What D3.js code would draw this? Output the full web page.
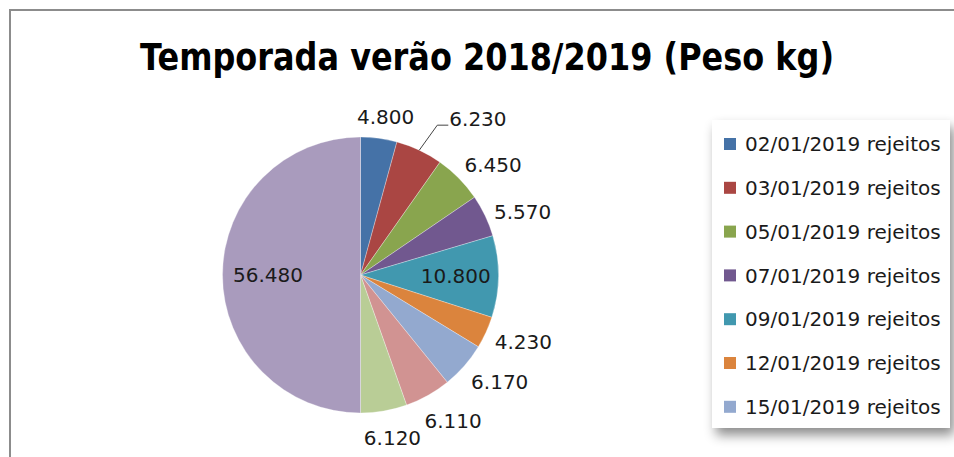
<!DOCTYPE html>
<html>
<head>
<meta charset="utf-8">
<script src="https://cdn.jsdelivr.net/npm/d3@7"></script>
<style>
  body { margin: 0; background: #fff; }
  svg { display: block; }
</style>
</head>
<body>
<div id="chart"></div>
<script>
// values (kg)
const values = [4.800, 6.230, 6.450, 5.570, 10.800, 4.230, 6.170, 6.110, 6.120, 56.480]
const labels = ["4.800", "6.230", "6.450", "5.570", "10.800", "4.230", "6.170", "6.110", "6.120", "56.480"]
// only the first seven legend entries are visible in the original
const legendNames = ["02/01/2019 rejeitos", "03/01/2019 rejeitos", "05/01/2019 rejeitos",
  "07/01/2019 rejeitos", "09/01/2019 rejeitos", "12/01/2019 rejeitos", "15/01/2019 rejeitos"]
const colors = ["#4572A7", "#AA4643", "#89A54E", "#71588F", "#4198AF",
  "#DB843D", "#93A9CF", "#D19392", "#B9CD96", "#A99BBD"]

const width = 954, height = 457
const cx = 360.5, cy = 275, radius = 138

let svg = d3.select("#chart").append("svg")
  .attr("width", width)
  .attr("height", height)

let defs = svg.append("defs")
let shadow = defs.append("filter").attr("id", "shadow")
  .attr("x", "-20%").attr("y", "-20%").attr("width", "140%").attr("height", "140%")
shadow.append("feDropShadow")
  .attr("dx", 4).attr("dy", 7).attr("stdDeviation", 6)
  .attr("flood-color", "#000").attr("flood-opacity", 0.45)

// frame of the chart area (only top and left edges are in view)
svg.append("path")
  .attr("d", "M10," + height + "V10H" + width)
  .attr("fill", "none")
  .attr("stroke", "#8c8c8c")
  .attr("stroke-width", 2)

// title
svg.append("text")
  .attr("x", 487)
  .attr("y", 70)
  .attr("text-anchor", "middle")
  .attr("font-family", "DejaVu Sans, sans-serif")
  .attr("font-weight", "bold")
  .attr("font-size", 37)
  .attr("textLength", 694)
  .attr("lengthAdjust", "spacingAndGlyphs")
  .attr("fill", "#000")
  .text("Temporada verão 2018/2019 (Peso kg)")

let pie = d3.pie().sort(null).value(function(d) { return d })
let arcs = pie(values)
let arc = d3.arc().innerRadius(0).outerRadius(radius)

let g = svg.append("g").attr("transform", "translate(" + cx + "," + cy + ")")

g.selectAll(".slice")
  .data(arcs)
  .enter().append("path")
  .attr("class", "slice")
  .attr("d", arc)
  .attr("fill", function(d, i) { return colors[i] })
  .attr("stroke", "#fff")
  .attr("stroke-opacity", 0.5)
  .attr("stroke-width", 0.6)

// data labels: outside end, except the ones that fit inside
const fontSize = 20
const inside = { 4: 0.69, 9: 0.67 }
// the 6.230 label was dragged out with a leader line
const leader = { 1: [18, -25, 11] }

let lab = g.append("g")
  .attr("font-family", "DejaVu Sans, sans-serif")
  .attr("font-size", fontSize)
  .attr("fill", "#1a1a1a")

arcs.forEach(function(d, i) {
  let a = (d.startAngle + d.endAngle) / 2
  let s = Math.sin(a), c = -Math.cos(a)
  if (leader[i]) {
    let x0 = s * radius, y0 = c * radius
    let l = leader[i]
    lab.append("path")
      .attr("d", "M" + x0 + "," + y0 + "l" + l[0] + "," + l[1] + "h" + l[2])
      .attr("fill", "none")
      .attr("stroke", "#444")
      .attr("stroke-width", 1)
    lab.append("text")
      .attr("x", x0 + l[0] + l[2] + 1)
      .attr("y", y0 + l[1])
      .attr("dy", "0.05em")
      .text(labels[i])
    return
  }
  let t = lab.append("text")
    .attr("dy", "0.36em")
    .attr("text-anchor", "middle")
    .text(labels[i])
  let x, y
  if (inside[i] !== undefined) {
    x = s * radius * inside[i]
    y = c * radius * inside[i]
  } else {
    let w = t.node().getComputedTextLength()
    let dist = radius + 10 + Math.abs(s) * w * 0.42 + Math.abs(c) * 11.6
    // labels lean a little toward the horizontal, like Excel's best fit
    let shift = 13 * Math.sin(2 * a)
    x = s * dist + Math.cos(a) * shift
    y = c * dist + Math.sin(a) * shift + 2.5
  }
  t.attr("x", x).attr("y", y)
})

// legend
let legend = svg.append("g")
legend.append("rect")
  .attr("x", 712).attr("y", 120)
  .attr("width", 238).attr("height", 308)
  .attr("fill", "#fff")
  .attr("filter", "url(#shadow)")

let item = legend.selectAll(".item")
  .data(legendNames)
  .enter().append("g")
  .attr("class", "item")
  .attr("transform", function(d, i) { return "translate(724," + (144 + i * 43.8) + ")" })

item.append("rect")
  .attr("x", 0).attr("y", -6)
  .attr("width", 12).attr("height", 12)
  .attr("fill", function(d, i) { return colors[i] })

item.append("text")
  .attr("x", 21)
  .attr("dy", "0.36em")
  .attr("font-family", "DejaVu Sans, sans-serif")
  .attr("font-size", 20)
  .attr("fill", "#1a1a1a")
  .text(function(d) { return d })
</script>
</body>
</html>
